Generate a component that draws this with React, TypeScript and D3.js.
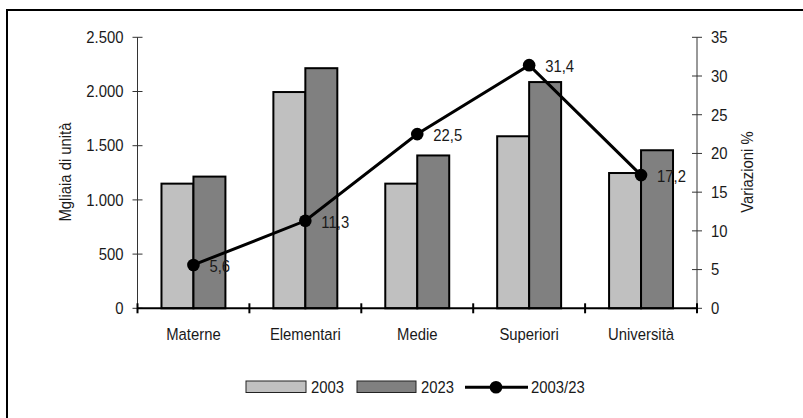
import React from "react";
import * as d3 from "d3";

const categories = ["Materne", "Elementari", "Medie", "Superiori", "Università"];
const series = ["2003", "2023"];
const values2003 = [1150, 1995, 1150, 1587, 1248];
const values2023 = [1215, 2215, 1410, 2087, 1458];
const variations = [5.6, 11.3, 22.5, 31.4, 17.2];
const leftTicks = [0, 500, 1000, 1500, 2000, 2500];
const rightTicks = [0, 5, 10, 15, 20, 25, 30, 35];
const lineLabel = "2003/23";
const leftTitle = "Mgliaia di unità";
const rightTitle = "Variazioni %";

const W = 803;
const H = 418;
const FONT = "'Liberation Sans', Arial, sans-serif";
const FS = 16.5;
const SX = 0.9;
const colors = ["#c0c0c0", "#808080"];

const fmtLeft = (v: number) => d3.format(",")(v).replace(/,/g, ".");
const fmtPct = (v: number) => v.toFixed(1).replace(".", ",");

type TProps = {
  x: number;
  y: number;
  anchor?: "start" | "middle" | "end";
  rotate?: number;
  baseline?: string;
  children: React.ReactNode;
};

function T({ x, y, anchor = "start", rotate = 0, baseline = "central", children }: TProps) {
  return (
    <text
      transform={`translate(${x},${y}) rotate(${rotate}) scale(${SX},1)`}
      textAnchor={anchor}
      dominantBaseline={baseline}
      fill="#1a1a1a"
    >
      {children}
    </text>
  );
}

export default function App() {
  const x0 = 137.5, x1 = 697, yTop = 37.3, yBot = 308.3;
  const x = d3.scaleBand<string>().domain(categories).range([x0, x1]).paddingInner(0).paddingOuter(0);
  const bw = x.bandwidth();
  const inner = d3.scaleBand<string>().domain(series).range([bw * 0.2143, bw * 0.7857]);
  const yL = d3.scaleLinear().domain([0, 2500]).range([yBot, yTop]);
  const yR = d3.scaleLinear().domain([0, 35]).range([yBot, yTop]);
  const data = [values2003, values2023];
  const cx = (i: number) => (x(categories[i]) as number) + bw / 2;
  const line = d3
    .line<number>()
    .x((_, i) => cx(i))
    .y((d) => yR(d));
  const boundaries = categories.map((c) => x(c) as number).concat([x1]);

  return (
    <svg
      width={W}
      height={H}
      style={{ position: "absolute", left: 0, top: 0 }}
      fontFamily={FONT}
      fontSize={FS}
    >
      <rect x={0} y={0} width={W} height={H} fill="#fff" />
      <rect x={7} y={10} width={W + 20} height={H + 20} fill="none" stroke="#000" strokeWidth={2} />

      {/* bars */}
      {categories.map((c, i) =>
        series.map((s, j) => {
          const v = data[j][i];
          return (
            <rect
              key={c + s}
              x={(x(c) as number) + (inner(s) as number)}
              y={yL(v)}
              width={inner.bandwidth()}
              height={yBot - yL(v)}
              fill={colors[j]}
              stroke="#000"
              strokeWidth={2}
            />
          );
        })
      )}

      {/* left axis */}
      <line x1={x0} x2={x0} y1={yTop} y2={yBot} stroke="#333" strokeWidth={1} />
      {leftTicks.map((t) => (
        <g key={"l" + t}>
          <line x1={x0 - 5} x2={x0 + 5} y1={yL(t)} y2={yL(t)} stroke="#333" strokeWidth={1} />
          <T x={x0 - 14} y={yL(t)} anchor="end">
            {fmtLeft(t)}
          </T>
        </g>
      ))}
      <T x={65} y={172} anchor="middle" rotate={-90}>
        {leftTitle}
      </T>

      {/* right axis */}
      <line x1={x1} x2={x1} y1={yTop} y2={yBot} stroke="#333" strokeWidth={1} />
      {rightTicks.map((t) => (
        <g key={"r" + t}>
          <line x1={x1 - 5} x2={x1 + 5} y1={yR(t)} y2={yR(t)} stroke="#333" strokeWidth={1} />
          <T x={x1 + 14} y={yR(t)}>
            {t}
          </T>
        </g>
      ))}
      <T x={747} y={172} anchor="middle" rotate={-90}>
        {rightTitle}
      </T>

      {/* x axis */}
      <line x1={x0} x2={x1} y1={yBot} y2={yBot} stroke="#000" strokeWidth={2} />
      {boundaries.map((b, i) => (
        <line key={"b" + i} x1={b} x2={b} y1={yBot - 5} y2={yBot + 5} stroke="#000" strokeWidth={2} />
      ))}
      {categories.map((c, i) => (
        <T key={"c" + c} x={cx(i)} y={334} anchor="middle">
          {c}
        </T>
      ))}

      {/* line */}
      <path d={line(variations) as string} fill="none" stroke="#000" strokeWidth={3} />
      {variations.map((v, i) => (
        <g key={"p" + i}>
          <circle cx={cx(i)} cy={yR(v)} r={6.3} fill="#000" />
          <T x={cx(i) + 16} y={yR(v) + 1}>
            {fmtPct(v)}
          </T>
        </g>
      ))}

      {/* legend */}
      <rect x={246} y={381} width={60} height={11.5} fill={colors[0]} stroke="#222" strokeWidth={1} />
      <T x={311} y={387}>{series[0]}</T>
      <rect x={357} y={381} width={59} height={11.5} fill={colors[1]} stroke="#222" strokeWidth={1} />
      <T x={421} y={387}>{series[1]}</T>
      <line x1={465} x2={528} y1={387.3} y2={387.3} stroke="#000" strokeWidth={3} />
      <circle cx={496} cy={387.3} r={6.3} fill="#000" />
      <T x={531} y={387}>{lineLabel}</T>
    </svg>
  );
}
